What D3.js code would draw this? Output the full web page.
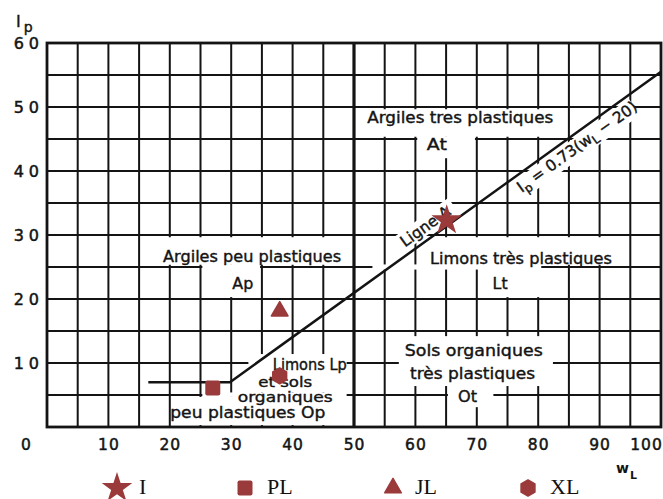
<!DOCTYPE html>
<html><head><meta charset="utf-8">
<script src="https://cdn.jsdelivr.net/npm/d3@7"></script>
<style>body{margin:0;background:#fff}svg{display:block}</style>
</head><body>
<svg id="c" width="663" height="499"></svg>
<script>
// ---- data ----
const xTicks = [0, 10, 20, 30, 40, 50, 60, 70, 80, 90, 100];
const yTicks = [10, 20, 30, 40, 50, 60];
const gridWL = [0,5,10,15,20,25,30,35,40,45,50,55,60,65,70,75,80,85,90,95,100];
const gridIp = [0,5,10,15,20,25,30,35,40,45,50,55,60];
const aLineWL = [16.5, 29.8, 100];
const aLineIp = [7, 7, 55.5];
const seriesNames = ["I", "PL", "JL", "XL"];
const seriesWL = [65.1, 27.0, 37.9, 37.9];
const seriesIp = [32.3, 6.1, 18.1, 8.0];
const zoneTexts = ["Argiles tres plastiques", "At", "Argiles peu plastiques", "Ap",
  "Limons très plastiques", "Lt", "Limons Lp", "et sols", "organiques", "peu plastiques Op",
  "Sols organiques", "très plastiques", "Ot"];
const zoneWL = [67.3, 63.5, 33.4, 31.9, 77.2, 73.8, 42.8, 38.8, 38.8, 32.7, 69.5, 69.3, 68.5];
const zoneIp = [48.4, 44.1, 26.7, 22.5, 26.4, 22.5, 9.8, 7.1, 4.7, 2.3, 11.9, 8.3, 4.8];

// ---- layout ----
const svg = d3.select("#c");
const x = d3.scaleLinear([0, 100], [47, 661]);
const y = d3.scaleLinear([0, 60], [427, 43]);
const ink = "#141414";
const red = "#9a3a3a";

// grid
const g = svg.append("g");
g.selectAll(".vx").data(gridWL).join("line")
  .attr("x1", d => x(d)).attr("x2", d => x(d)).attr("y1", y(0)).attr("y2", y(60))
  .attr("stroke", ink).attr("stroke-width", 2);
g.selectAll(".hy").data(gridIp).join("line")
  .attr("y1", d => y(d)).attr("y2", d => y(d)).attr("x1", x(0)).attr("x2", x(100))
  .attr("stroke", ink).attr("stroke-width", 2);

// knock-outs (blank areas around the zone labels), in data units [wL0, wL1, Ip0, Ip1]
const knock = [
  [15.4, 49.6, 25.35, 29.65],
  [25.3, 34.7, 20.3, 25.4],
  [20.3, 48.8, 0.3, 4.7],
  [25.3, 48.8, 4.7, 5.4],
  [32.8, 48.8, 5.4, 11.4],
  [50.4, 84.6, 45.35, 49.65],
  [60.3, 69.7, 42, 45.4],
  [62, 93, 25.35, 29.65],
  [53, 80.5, 24.6, 25.4],
  [70.3, 80.3, 20.3, 25.4],
  [57.3, 82.4, 6.4, 14.2],
  [65.3, 72.7, 3.1, 6.4]
];
svg.append("g").selectAll("rect").data(knock).join("rect")
  .attr("x", d => x(d[0])).attr("width", d => x(d[1]) - x(d[0]))
  .attr("y", d => y(d[3])).attr("height", d => y(d[2]) - y(d[3]))
  .attr("fill", "#fff");

// A-line geometry
const p1 = [x(aLineWL[1]), y(aLineIp[1])], p2 = [x(aLineWL[2]), y(aLineIp[2])];
const ang = Math.atan2(p2[1] - p1[1], p2[0] - p1[0]) * 180 / Math.PI;
const alongLine = w => {
  const t = (w - aLineWL[1]) / (aLineWL[2] - aLineWL[1]);
  return [x(w), y(aLineIp[1] + t * (aLineIp[2] - aLineIp[1]))];
};
// rotated knock-outs for rotated labels
const rotKnock = [[62.8, -22, 70, 18], [85.2, 3, 140, 20]];
rotKnock.forEach(k => {
  const [px, py] = alongLine(k[0]);
  svg.append("rect").attr("transform", `translate(${px},${py}) rotate(${ang})`)
    .attr("x", -k[2] / 2).attr("y", k[1]).attr("width", k[2]).attr("height", k[3])
    .attr("fill", "#fff");
});

// thick wL = 50 line & frame
svg.append("line").attr("x1", x(50)).attr("x2", x(50)).attr("y1", y(0)).attr("y2", y(60))
  .attr("stroke", ink).attr("stroke-width", 3.2);
svg.append("rect").attr("x", x(0)).attr("y", y(60)).attr("width", x(100) - x(0))
  .attr("height", y(0) - y(60)).attr("fill", "none").attr("stroke", ink).attr("stroke-width", 2.8);

// A-line
svg.append("path")
  .attr("d", d3.line().x(d => x(d[0])).y(d => y(d[1]))(aLineWL.map((w, i) => [w, aLineIp[i]])))
  .attr("fill", "none").attr("stroke", ink).attr("stroke-width", 2.5);

// axes
const fontAx = "'DejaVu Sans', sans-serif";
const ax = svg.append("g").attr("transform", `translate(0,${y(0)})`)
  .call(d3.axisBottom(x).tickValues(xTicks).tickSize(0).tickPadding(12));
ax.select(".domain").remove();
ax.selectAll("text").attr("font-family", fontAx).attr("font-size", 15.5).attr("fill", ink)
  .attr("stroke", ink).attr("stroke-width", 0.5).attr("letter-spacing", 1)
  .attr("dx", d => d === 0 ? -21 : d === 100 ? -15 : 0);
const ay = svg.append("g").attr("transform", `translate(${x(0)},0)`)
  .call(d3.axisLeft(y).tickValues(yTicks).tickSize(0).tickPadding(8));
ay.select(".domain").remove();
ay.selectAll("text").attr("font-family", fontAx).attr("font-size", 16).attr("fill", ink)
  .attr("stroke", ink).attr("stroke-width", 0.5).attr("letter-spacing", 5).attr("dx", 5);

// axis titles
const ipT = svg.append("text").attr("x", 16).attr("y", 27).attr("font-family", fontAx)
  .attr("font-size", 16).attr("fill", ink).attr("stroke", ink).attr("stroke-width", 0.4).text("I");
ipT.append("tspan").attr("dx", 3).attr("dy", 5).attr("font-size", 14).text("p");
const wT = svg.append("text").attr("x", 616).attr("y", 473).attr("font-family", fontAx)
  .attr("font-size", 14).attr("font-weight", "bold").attr("fill", ink).text("w");
wT.append("tspan").attr("dx", 1).attr("dy", 6).attr("font-size", 11).text("L");

// zone labels
const zoneWidth = [186, 20, 178, 21, 182, 15, 74, 54, 95, 155, 138, 125, 19];
const zoneSize = [15.5, 15.5, 15.5, 15.5, 15.5, 15.5, 15, 14, 14.5, 15.5, 15.5, 15.5, 15.5];
svg.append("g").selectAll("text").data(zoneTexts).join("text")
  .attr("x", (d, i) => x(zoneWL[i])).attr("y", (d, i) => y(zoneIp[i]))
  .attr("dy", "0.36em").attr("text-anchor", "middle")
  .attr("font-family", fontAx).attr("font-size", (d, i) => zoneSize[i]).attr("fill", ink)
  .attr("stroke", ink).attr("stroke-width", 0.4)
  .attr("textLength", (d, i) => zoneWidth[i]).attr("lengthAdjust", "spacingAndGlyphs")
  .text(d => d);

// rotated labels along the A-line
{
  const [px, py] = alongLine(62.8);
  svg.append("text").attr("transform", `translate(${px},${py}) rotate(${ang})`)
    .attr("y", -7).attr("text-anchor", "middle").attr("font-family", fontAx)
    .attr("font-size", 15.5).attr("fill", ink).attr("stroke", ink).attr("stroke-width", 0.4)
    .text("Ligne A");
}
{
  const [px, py] = alongLine(85.2);
  const t = svg.append("text").attr("transform", `translate(${px},${py}) rotate(${ang})`)
    .attr("y", 17).attr("text-anchor", "middle").attr("font-family", fontAx)
    .attr("font-size", 15.5).attr("fill", ink).attr("stroke", ink).attr("stroke-width", 0.4);
  t.append("tspan").text("I");
  t.append("tspan").attr("dy", 4).attr("font-size", 12).text("p");
  t.append("tspan").attr("dy", -4).text(" = 0.73(w");
  t.append("tspan").attr("dy", 4).attr("font-size", 12).text("L");
  t.append("tspan").attr("dy", -4).text(" − 20)");
}

// markers
const hex = r => d3.range(6).map(k => {
  const a = Math.PI / 6 + k * Math.PI / 3;
  return [r * Math.cos(a), r * Math.sin(a)];
});
function drawMarker(sel, i, cx, cy) {
  const name = seriesNames[i];
  if (name === "I") {
    sel.append("path").attr("d", d3.symbol(d3.symbolStar, 290)())
      .attr("transform", `translate(${cx},${cy})`).attr("fill", red);
  } else if (name === "PL") {
    sel.append("rect").attr("x", cx - 7.5).attr("y", cy - 7.5).attr("width", 15).attr("height", 15)
      .attr("rx", 2).attr("fill", red);
  } else if (name === "JL") {
    sel.append("path").attr("d", d3.symbol(d3.symbolTriangle, 120)())
      .attr("transform", `translate(${cx},${cy})`).attr("fill", red)
      .attr("stroke", red).attr("stroke-width", 1.5).attr("stroke-linejoin", "round");
  } else {
    sel.append("path").attr("d", "M" + hex(8).join("L") + "Z")
      .attr("transform", `translate(${cx},${cy})`).attr("fill", red)
      .attr("stroke", red).attr("stroke-width", 1.5).attr("stroke-linejoin", "round");
  }
}
const mk = svg.append("g");
seriesNames.forEach((n, i) => drawMarker(mk, i, x(seriesWL[i]), y(seriesIp[i])));

// legend
const legX = [117, 245, 393, 528];
const lg = svg.append("g");
seriesNames.forEach((n, i) => {
  drawMarker(lg, i, legX[i], 488);
  lg.append("text").attr("x", legX[i] + 22).attr("y", 494)
    .attr("font-family", "'Liberation Serif', 'Times New Roman', serif")
    .attr("font-size", 22).attr("fill", "#111").text(n);
});
</script>
</body></html>
